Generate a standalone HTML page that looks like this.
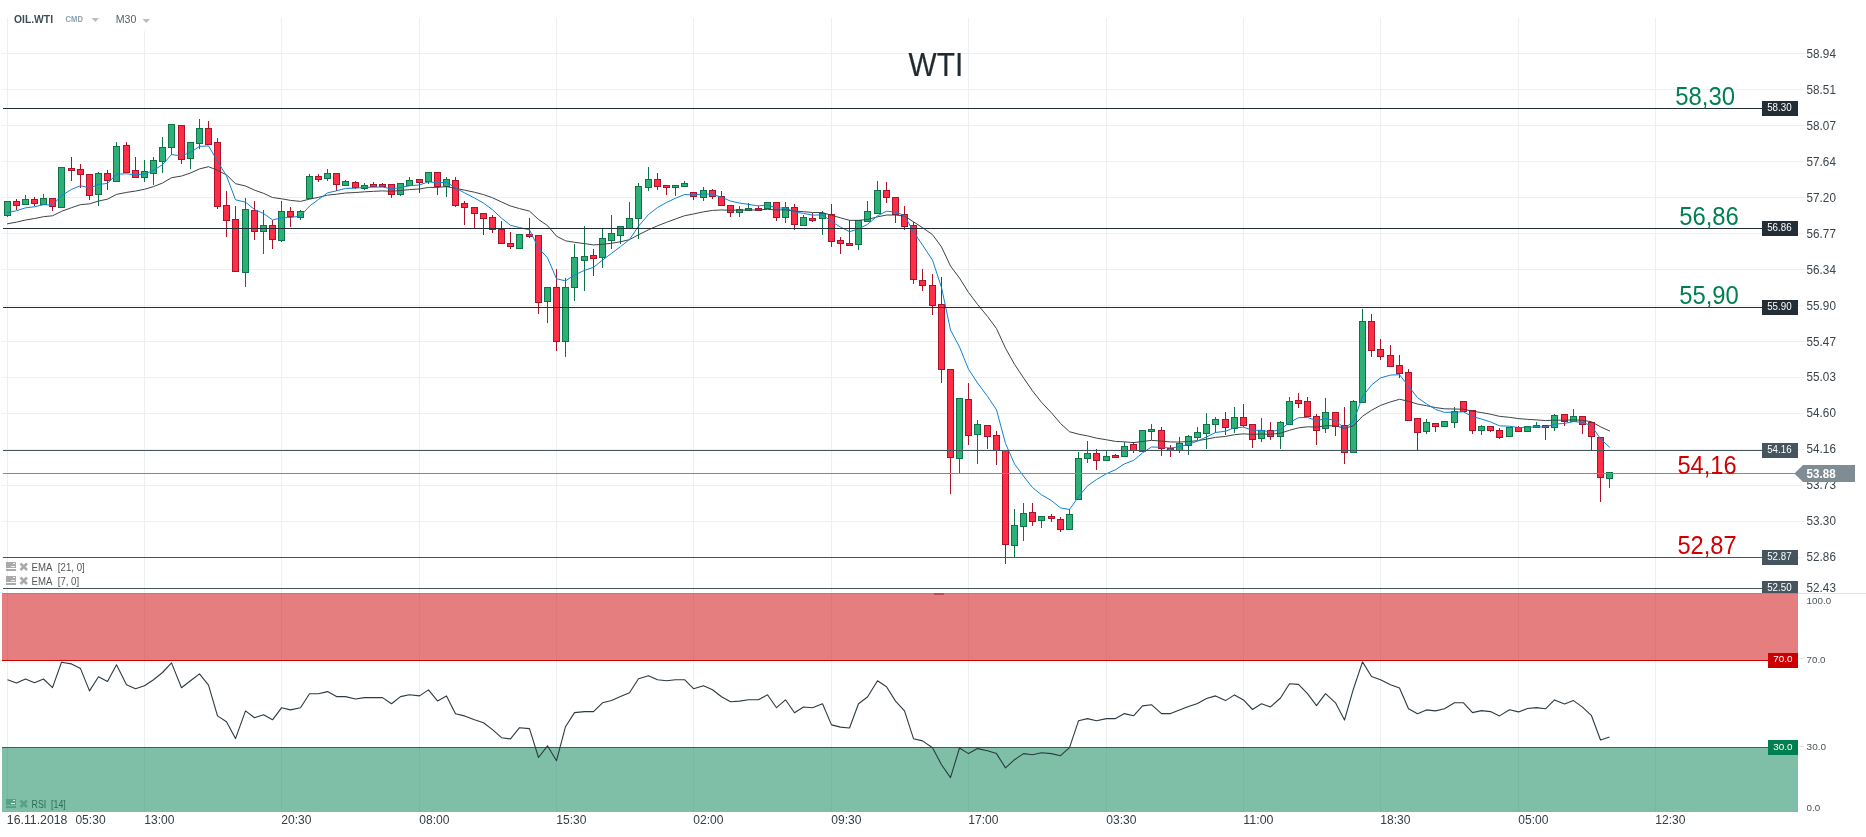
<!DOCTYPE html>
<html><head><meta charset="utf-8"><title>WTI</title>
<style>html,body{margin:0;padding:0;background:#fff;width:1866px;height:837px;overflow:hidden}</style>
</head><body>
<svg width="1866" height="837" viewBox="0 0 1866 837" style="display:block;will-change:transform;font-family:'Liberation Sans', sans-serif"><rect x="0" y="0" width="1866" height="837" fill="#ffffff"/><g shape-rendering="crispEdges"><rect x="7" y="18" width="1" height="794" fill="#edf0f3"/><rect x="144" y="18" width="1" height="794" fill="#edf0f3"/><rect x="281" y="18" width="1" height="794" fill="#edf0f3"/><rect x="419" y="18" width="1" height="794" fill="#edf0f3"/><rect x="556" y="18" width="1" height="794" fill="#edf0f3"/><rect x="693" y="18" width="1" height="794" fill="#edf0f3"/><rect x="831" y="18" width="1" height="794" fill="#edf0f3"/><rect x="968" y="18" width="1" height="794" fill="#edf0f3"/><rect x="1106" y="18" width="1" height="794" fill="#edf0f3"/><rect x="1243" y="18" width="1" height="794" fill="#edf0f3"/><rect x="1380" y="18" width="1" height="794" fill="#edf0f3"/><rect x="1518" y="18" width="1" height="794" fill="#edf0f3"/><rect x="1655" y="18" width="1" height="794" fill="#edf0f3"/><rect x="2" y="53" width="1802" height="1" fill="#edf0f3"/><rect x="2" y="89" width="1802" height="1" fill="#edf0f3"/><rect x="2" y="125" width="1802" height="1" fill="#edf0f3"/><rect x="2" y="161" width="1802" height="1" fill="#edf0f3"/><rect x="2" y="197" width="1802" height="1" fill="#edf0f3"/><rect x="2" y="233" width="1802" height="1" fill="#edf0f3"/><rect x="2" y="269" width="1802" height="1" fill="#edf0f3"/><rect x="2" y="305" width="1802" height="1" fill="#edf0f3"/><rect x="2" y="341" width="1802" height="1" fill="#edf0f3"/><rect x="2" y="377" width="1802" height="1" fill="#edf0f3"/><rect x="2" y="413" width="1802" height="1" fill="#edf0f3"/><rect x="2" y="449" width="1802" height="1" fill="#edf0f3"/><rect x="2" y="485" width="1802" height="1" fill="#edf0f3"/><rect x="2" y="521" width="1802" height="1" fill="#edf0f3"/><rect x="2" y="557" width="1802" height="1" fill="#edf0f3"/></g><g shape-rendering="crispEdges"><rect x="7" y="201" width="1" height="16" fill="#0f7347"/><rect x="4" y="201" width="7" height="15" fill="#0f7347"/><rect x="5" y="202" width="5" height="13" fill="#2bb077"/><rect x="16" y="199" width="1" height="11" fill="#a8142a"/><rect x="13" y="201" width="7" height="5" fill="#a8142a"/><rect x="14" y="202" width="5" height="3" fill="#ff2e46"/><rect x="25" y="195" width="1" height="10" fill="#0f7347"/><rect x="22" y="199" width="7" height="6" fill="#0f7347"/><rect x="23" y="200" width="5" height="4" fill="#2bb077"/><rect x="34" y="197" width="1" height="9" fill="#a8142a"/><rect x="31" y="199" width="7" height="5" fill="#a8142a"/><rect x="32" y="200" width="5" height="3" fill="#ff2e46"/><rect x="43" y="194" width="1" height="11" fill="#0f7347"/><rect x="40" y="198" width="7" height="7" fill="#0f7347"/><rect x="41" y="199" width="5" height="5" fill="#2bb077"/><rect x="52" y="198" width="1" height="13" fill="#a8142a"/><rect x="49" y="198" width="7" height="9" fill="#a8142a"/><rect x="50" y="199" width="5" height="7" fill="#ff2e46"/><rect x="58" y="167" width="7" height="41" fill="#0f7347"/><rect x="59" y="168" width="5" height="39" fill="#2bb077"/><rect x="71" y="157" width="1" height="24" fill="#a8142a"/><rect x="68" y="168" width="7" height="3" fill="#a8142a"/><rect x="69" y="169" width="5" height="1" fill="#ff2e46"/><rect x="80" y="164" width="1" height="24" fill="#a8142a"/><rect x="77" y="169" width="7" height="6" fill="#a8142a"/><rect x="78" y="170" width="5" height="4" fill="#ff2e46"/><rect x="89" y="174" width="1" height="26" fill="#a8142a"/><rect x="86" y="174" width="7" height="22" fill="#a8142a"/><rect x="87" y="175" width="5" height="20" fill="#ff2e46"/><rect x="98" y="172" width="1" height="34" fill="#0f7347"/><rect x="95" y="173" width="7" height="22" fill="#0f7347"/><rect x="96" y="174" width="5" height="20" fill="#2bb077"/><rect x="107" y="170" width="1" height="20" fill="#a8142a"/><rect x="104" y="173" width="7" height="8" fill="#a8142a"/><rect x="105" y="174" width="5" height="6" fill="#ff2e46"/><rect x="116" y="142" width="1" height="40" fill="#0f7347"/><rect x="113" y="146" width="7" height="36" fill="#0f7347"/><rect x="114" y="147" width="5" height="34" fill="#2bb077"/><rect x="126" y="142" width="1" height="31" fill="#a8142a"/><rect x="123" y="145" width="7" height="28" fill="#a8142a"/><rect x="124" y="146" width="5" height="26" fill="#ff2e46"/><rect x="135" y="157" width="1" height="21" fill="#a8142a"/><rect x="132" y="170" width="7" height="8" fill="#a8142a"/><rect x="133" y="171" width="5" height="6" fill="#ff2e46"/><rect x="144" y="160" width="1" height="22" fill="#0f7347"/><rect x="141" y="171" width="7" height="7" fill="#0f7347"/><rect x="142" y="172" width="5" height="5" fill="#2bb077"/><rect x="153" y="157" width="1" height="28" fill="#0f7347"/><rect x="150" y="160" width="7" height="14" fill="#0f7347"/><rect x="151" y="161" width="5" height="12" fill="#2bb077"/><rect x="162" y="137" width="1" height="36" fill="#0f7347"/><rect x="159" y="147" width="7" height="15" fill="#0f7347"/><rect x="160" y="148" width="5" height="13" fill="#2bb077"/><rect x="171" y="124" width="1" height="31" fill="#0f7347"/><rect x="168" y="124" width="7" height="24" fill="#0f7347"/><rect x="169" y="125" width="5" height="22" fill="#2bb077"/><rect x="181" y="125" width="1" height="39" fill="#a8142a"/><rect x="178" y="125" width="7" height="35" fill="#a8142a"/><rect x="179" y="126" width="5" height="33" fill="#ff2e46"/><rect x="190" y="142" width="1" height="27" fill="#0f7347"/><rect x="187" y="142" width="7" height="17" fill="#0f7347"/><rect x="188" y="143" width="5" height="15" fill="#2bb077"/><rect x="199" y="119" width="1" height="30" fill="#0f7347"/><rect x="196" y="128" width="7" height="16" fill="#0f7347"/><rect x="197" y="129" width="5" height="14" fill="#2bb077"/><rect x="208" y="121" width="1" height="24" fill="#a8142a"/><rect x="205" y="128" width="7" height="17" fill="#a8142a"/><rect x="206" y="129" width="5" height="15" fill="#ff2e46"/><rect x="217" y="138" width="1" height="71" fill="#a8142a"/><rect x="214" y="142" width="7" height="65" fill="#a8142a"/><rect x="215" y="143" width="5" height="63" fill="#ff2e46"/><rect x="226" y="191" width="1" height="46" fill="#a8142a"/><rect x="223" y="205" width="7" height="16" fill="#a8142a"/><rect x="224" y="206" width="5" height="14" fill="#ff2e46"/><rect x="235" y="206" width="1" height="66" fill="#a8142a"/><rect x="232" y="219" width="7" height="53" fill="#a8142a"/><rect x="233" y="220" width="5" height="51" fill="#ff2e46"/><rect x="245" y="198" width="1" height="89" fill="#0f7347"/><rect x="242" y="209" width="7" height="64" fill="#0f7347"/><rect x="243" y="210" width="5" height="62" fill="#2bb077"/><rect x="254" y="201" width="1" height="39" fill="#a8142a"/><rect x="251" y="210" width="7" height="22" fill="#a8142a"/><rect x="252" y="211" width="5" height="20" fill="#ff2e46"/><rect x="263" y="210" width="1" height="44" fill="#0f7347"/><rect x="260" y="225" width="7" height="7" fill="#0f7347"/><rect x="261" y="226" width="5" height="5" fill="#2bb077"/><rect x="272" y="220" width="1" height="29" fill="#a8142a"/><rect x="269" y="225" width="7" height="15" fill="#a8142a"/><rect x="270" y="226" width="5" height="13" fill="#ff2e46"/><rect x="281" y="201" width="1" height="41" fill="#0f7347"/><rect x="278" y="211" width="7" height="30" fill="#0f7347"/><rect x="279" y="212" width="5" height="28" fill="#2bb077"/><rect x="290" y="207" width="1" height="20" fill="#a8142a"/><rect x="287" y="211" width="7" height="6" fill="#a8142a"/><rect x="288" y="212" width="5" height="4" fill="#ff2e46"/><rect x="300" y="210" width="1" height="10" fill="#0f7347"/><rect x="297" y="211" width="7" height="7" fill="#0f7347"/><rect x="298" y="212" width="5" height="5" fill="#2bb077"/><rect x="309" y="174" width="1" height="25" fill="#0f7347"/><rect x="306" y="176" width="7" height="23" fill="#0f7347"/><rect x="307" y="177" width="5" height="21" fill="#2bb077"/><rect x="318" y="174" width="1" height="8" fill="#a8142a"/><rect x="315" y="176" width="7" height="4" fill="#a8142a"/><rect x="316" y="177" width="5" height="2" fill="#ff2e46"/><rect x="327" y="169" width="1" height="12" fill="#0f7347"/><rect x="324" y="173" width="7" height="6" fill="#0f7347"/><rect x="325" y="174" width="5" height="4" fill="#2bb077"/><rect x="336" y="173" width="1" height="18" fill="#a8142a"/><rect x="333" y="173" width="7" height="12" fill="#a8142a"/><rect x="334" y="174" width="5" height="10" fill="#ff2e46"/><rect x="345" y="180" width="1" height="6" fill="#0f7347"/><rect x="342" y="181" width="7" height="5" fill="#0f7347"/><rect x="343" y="182" width="5" height="3" fill="#2bb077"/><rect x="355" y="181" width="1" height="8" fill="#a8142a"/><rect x="352" y="182" width="7" height="6" fill="#a8142a"/><rect x="353" y="183" width="5" height="4" fill="#ff2e46"/><rect x="364" y="183" width="1" height="7" fill="#0f7347"/><rect x="361" y="185" width="7" height="4" fill="#0f7347"/><rect x="362" y="186" width="5" height="2" fill="#2bb077"/><rect x="373" y="182" width="1" height="5" fill="#a8142a"/><rect x="370" y="184" width="7" height="3" fill="#a8142a"/><rect x="371" y="185" width="5" height="1" fill="#ff2e46"/><rect x="382" y="183" width="1" height="4" fill="#a8142a"/><rect x="379" y="184" width="7" height="3" fill="#a8142a"/><rect x="380" y="185" width="5" height="1" fill="#ff2e46"/><rect x="391" y="184" width="1" height="14" fill="#a8142a"/><rect x="388" y="184" width="7" height="11" fill="#a8142a"/><rect x="389" y="185" width="5" height="9" fill="#ff2e46"/><rect x="400" y="183" width="1" height="13" fill="#0f7347"/><rect x="397" y="183" width="7" height="12" fill="#0f7347"/><rect x="398" y="184" width="5" height="10" fill="#2bb077"/><rect x="409" y="177" width="1" height="9" fill="#0f7347"/><rect x="406" y="180" width="7" height="6" fill="#0f7347"/><rect x="407" y="181" width="5" height="4" fill="#2bb077"/><rect x="419" y="179" width="1" height="14" fill="#a8142a"/><rect x="416" y="179" width="7" height="4" fill="#a8142a"/><rect x="417" y="180" width="5" height="2" fill="#ff2e46"/><rect x="428" y="172" width="1" height="12" fill="#0f7347"/><rect x="425" y="172" width="7" height="10" fill="#0f7347"/><rect x="426" y="173" width="5" height="8" fill="#2bb077"/><rect x="437" y="172" width="1" height="23" fill="#a8142a"/><rect x="434" y="172" width="7" height="15" fill="#a8142a"/><rect x="435" y="173" width="5" height="13" fill="#ff2e46"/><rect x="446" y="177" width="1" height="20" fill="#0f7347"/><rect x="443" y="179" width="7" height="8" fill="#0f7347"/><rect x="444" y="180" width="5" height="6" fill="#2bb077"/><rect x="455" y="177" width="1" height="30" fill="#a8142a"/><rect x="452" y="180" width="7" height="26" fill="#a8142a"/><rect x="453" y="181" width="5" height="24" fill="#ff2e46"/><rect x="464" y="201" width="1" height="24" fill="#a8142a"/><rect x="461" y="203" width="7" height="5" fill="#a8142a"/><rect x="462" y="204" width="5" height="3" fill="#ff2e46"/><rect x="474" y="207" width="1" height="22" fill="#a8142a"/><rect x="471" y="207" width="7" height="7" fill="#a8142a"/><rect x="472" y="208" width="5" height="5" fill="#ff2e46"/><rect x="483" y="213" width="1" height="22" fill="#a8142a"/><rect x="480" y="213" width="7" height="6" fill="#a8142a"/><rect x="481" y="214" width="5" height="4" fill="#ff2e46"/><rect x="492" y="215" width="1" height="18" fill="#a8142a"/><rect x="489" y="217" width="7" height="13" fill="#a8142a"/><rect x="490" y="218" width="5" height="11" fill="#ff2e46"/><rect x="501" y="221" width="1" height="23" fill="#a8142a"/><rect x="498" y="229" width="7" height="15" fill="#a8142a"/><rect x="499" y="230" width="5" height="13" fill="#ff2e46"/><rect x="510" y="232" width="1" height="17" fill="#a8142a"/><rect x="507" y="243" width="7" height="4" fill="#a8142a"/><rect x="508" y="244" width="5" height="2" fill="#ff2e46"/><rect x="516" y="234" width="7" height="15" fill="#0f7347"/><rect x="517" y="235" width="5" height="13" fill="#2bb077"/><rect x="529" y="218" width="1" height="20" fill="#a8142a"/><rect x="526" y="234" width="7" height="3" fill="#a8142a"/><rect x="527" y="235" width="5" height="1" fill="#ff2e46"/><rect x="538" y="235" width="1" height="79" fill="#a8142a"/><rect x="535" y="235" width="7" height="68" fill="#a8142a"/><rect x="536" y="236" width="5" height="66" fill="#ff2e46"/><rect x="547" y="287" width="1" height="36" fill="#0f7347"/><rect x="544" y="287" width="7" height="15" fill="#0f7347"/><rect x="545" y="288" width="5" height="13" fill="#2bb077"/><rect x="556" y="269" width="1" height="82" fill="#a8142a"/><rect x="553" y="287" width="7" height="55" fill="#a8142a"/><rect x="554" y="288" width="5" height="53" fill="#ff2e46"/><rect x="565" y="278" width="1" height="79" fill="#0f7347"/><rect x="562" y="287" width="7" height="55" fill="#0f7347"/><rect x="563" y="288" width="5" height="53" fill="#2bb077"/><rect x="574" y="244" width="1" height="57" fill="#0f7347"/><rect x="571" y="257" width="7" height="31" fill="#0f7347"/><rect x="572" y="258" width="5" height="29" fill="#2bb077"/><rect x="584" y="226" width="1" height="65" fill="#0f7347"/><rect x="581" y="256" width="7" height="5" fill="#0f7347"/><rect x="582" y="257" width="5" height="3" fill="#2bb077"/><rect x="593" y="249" width="1" height="27" fill="#a8142a"/><rect x="590" y="255" width="7" height="4" fill="#a8142a"/><rect x="591" y="256" width="5" height="2" fill="#ff2e46"/><rect x="602" y="228" width="1" height="40" fill="#0f7347"/><rect x="599" y="238" width="7" height="20" fill="#0f7347"/><rect x="600" y="239" width="5" height="18" fill="#2bb077"/><rect x="611" y="215" width="1" height="34" fill="#0f7347"/><rect x="608" y="233" width="7" height="8" fill="#0f7347"/><rect x="609" y="234" width="5" height="6" fill="#2bb077"/><rect x="620" y="226" width="1" height="18" fill="#0f7347"/><rect x="617" y="226" width="7" height="10" fill="#0f7347"/><rect x="618" y="227" width="5" height="8" fill="#2bb077"/><rect x="629" y="202" width="1" height="27" fill="#0f7347"/><rect x="626" y="218" width="7" height="11" fill="#0f7347"/><rect x="627" y="219" width="5" height="9" fill="#2bb077"/><rect x="638" y="183" width="1" height="56" fill="#0f7347"/><rect x="635" y="186" width="7" height="33" fill="#0f7347"/><rect x="636" y="187" width="5" height="31" fill="#2bb077"/><rect x="648" y="167" width="1" height="24" fill="#0f7347"/><rect x="645" y="179" width="7" height="9" fill="#0f7347"/><rect x="646" y="180" width="5" height="7" fill="#2bb077"/><rect x="657" y="173" width="1" height="17" fill="#a8142a"/><rect x="654" y="179" width="7" height="8" fill="#a8142a"/><rect x="655" y="180" width="5" height="6" fill="#ff2e46"/><rect x="666" y="185" width="1" height="10" fill="#a8142a"/><rect x="663" y="185" width="7" height="3" fill="#a8142a"/><rect x="664" y="186" width="5" height="1" fill="#ff2e46"/><rect x="675" y="185" width="1" height="11" fill="#0f7347"/><rect x="672" y="185" width="7" height="3" fill="#0f7347"/><rect x="673" y="186" width="5" height="1" fill="#2bb077"/><rect x="684" y="181" width="1" height="6" fill="#0f7347"/><rect x="681" y="183" width="7" height="4" fill="#0f7347"/><rect x="682" y="184" width="5" height="2" fill="#2bb077"/><rect x="693" y="192" width="1" height="8" fill="#a8142a"/><rect x="690" y="192" width="7" height="5" fill="#a8142a"/><rect x="691" y="193" width="5" height="3" fill="#ff2e46"/><rect x="703" y="187" width="1" height="14" fill="#0f7347"/><rect x="700" y="190" width="7" height="8" fill="#0f7347"/><rect x="701" y="191" width="5" height="6" fill="#2bb077"/><rect x="712" y="189" width="1" height="10" fill="#a8142a"/><rect x="709" y="190" width="7" height="7" fill="#a8142a"/><rect x="710" y="191" width="5" height="5" fill="#ff2e46"/><rect x="721" y="191" width="1" height="15" fill="#a8142a"/><rect x="718" y="196" width="7" height="10" fill="#a8142a"/><rect x="719" y="197" width="5" height="8" fill="#ff2e46"/><rect x="730" y="205" width="1" height="12" fill="#a8142a"/><rect x="727" y="205" width="7" height="8" fill="#a8142a"/><rect x="728" y="206" width="5" height="6" fill="#ff2e46"/><rect x="739" y="206" width="1" height="11" fill="#0f7347"/><rect x="736" y="209" width="7" height="4" fill="#0f7347"/><rect x="737" y="210" width="5" height="2" fill="#2bb077"/><rect x="748" y="203" width="1" height="8" fill="#0f7347"/><rect x="745" y="208" width="7" height="3" fill="#0f7347"/><rect x="746" y="209" width="5" height="1" fill="#2bb077"/><rect x="758" y="206" width="1" height="5" fill="#a8142a"/><rect x="755" y="208" width="7" height="3" fill="#a8142a"/><rect x="756" y="209" width="5" height="1" fill="#ff2e46"/><rect x="764" y="202" width="7" height="7" fill="#0f7347"/><rect x="765" y="203" width="5" height="5" fill="#2bb077"/><rect x="776" y="202" width="1" height="19" fill="#a8142a"/><rect x="773" y="202" width="7" height="16" fill="#a8142a"/><rect x="774" y="203" width="5" height="14" fill="#ff2e46"/><rect x="785" y="202" width="1" height="21" fill="#0f7347"/><rect x="782" y="207" width="7" height="11" fill="#0f7347"/><rect x="783" y="208" width="5" height="9" fill="#2bb077"/><rect x="794" y="204" width="1" height="26" fill="#a8142a"/><rect x="791" y="207" width="7" height="18" fill="#a8142a"/><rect x="792" y="208" width="5" height="16" fill="#ff2e46"/><rect x="803" y="215" width="1" height="11" fill="#0f7347"/><rect x="800" y="217" width="7" height="9" fill="#0f7347"/><rect x="801" y="218" width="5" height="7" fill="#2bb077"/><rect x="812" y="213" width="1" height="9" fill="#a8142a"/><rect x="809" y="218" width="7" height="3" fill="#a8142a"/><rect x="810" y="219" width="5" height="1" fill="#ff2e46"/><rect x="822" y="211" width="1" height="24" fill="#0f7347"/><rect x="819" y="213" width="7" height="6" fill="#0f7347"/><rect x="820" y="214" width="5" height="4" fill="#2bb077"/><rect x="831" y="204" width="1" height="43" fill="#a8142a"/><rect x="828" y="214" width="7" height="28" fill="#a8142a"/><rect x="829" y="215" width="5" height="26" fill="#ff2e46"/><rect x="840" y="237" width="1" height="17" fill="#a8142a"/><rect x="837" y="240" width="7" height="4" fill="#a8142a"/><rect x="838" y="241" width="5" height="2" fill="#ff2e46"/><rect x="849" y="220" width="1" height="26" fill="#a8142a"/><rect x="846" y="243" width="7" height="3" fill="#a8142a"/><rect x="847" y="244" width="5" height="1" fill="#ff2e46"/><rect x="858" y="220" width="1" height="30" fill="#0f7347"/><rect x="855" y="220" width="7" height="25" fill="#0f7347"/><rect x="856" y="221" width="5" height="23" fill="#2bb077"/><rect x="867" y="201" width="1" height="21" fill="#0f7347"/><rect x="864" y="211" width="7" height="11" fill="#0f7347"/><rect x="865" y="212" width="5" height="9" fill="#2bb077"/><rect x="877" y="181" width="1" height="33" fill="#0f7347"/><rect x="874" y="190" width="7" height="24" fill="#0f7347"/><rect x="875" y="191" width="5" height="22" fill="#2bb077"/><rect x="886" y="182" width="1" height="21" fill="#a8142a"/><rect x="883" y="190" width="7" height="8" fill="#a8142a"/><rect x="884" y="191" width="5" height="6" fill="#ff2e46"/><rect x="895" y="197" width="1" height="26" fill="#a8142a"/><rect x="892" y="197" width="7" height="18" fill="#a8142a"/><rect x="893" y="198" width="5" height="16" fill="#ff2e46"/><rect x="904" y="206" width="1" height="24" fill="#a8142a"/><rect x="901" y="214" width="7" height="13" fill="#a8142a"/><rect x="902" y="215" width="5" height="11" fill="#ff2e46"/><rect x="913" y="222" width="1" height="62" fill="#a8142a"/><rect x="910" y="225" width="7" height="55" fill="#a8142a"/><rect x="911" y="226" width="5" height="53" fill="#ff2e46"/><rect x="922" y="269" width="1" height="22" fill="#a8142a"/><rect x="919" y="280" width="7" height="6" fill="#a8142a"/><rect x="920" y="281" width="5" height="4" fill="#ff2e46"/><rect x="932" y="274" width="1" height="41" fill="#a8142a"/><rect x="929" y="285" width="7" height="21" fill="#a8142a"/><rect x="930" y="286" width="5" height="19" fill="#ff2e46"/><rect x="941" y="277" width="1" height="106" fill="#a8142a"/><rect x="938" y="304" width="7" height="66" fill="#a8142a"/><rect x="939" y="305" width="5" height="64" fill="#ff2e46"/><rect x="950" y="369" width="1" height="125" fill="#a8142a"/><rect x="947" y="369" width="7" height="89" fill="#a8142a"/><rect x="948" y="370" width="5" height="87" fill="#ff2e46"/><rect x="959" y="398" width="1" height="76" fill="#0f7347"/><rect x="956" y="398" width="7" height="61" fill="#0f7347"/><rect x="957" y="399" width="5" height="59" fill="#2bb077"/><rect x="968" y="383" width="1" height="62" fill="#a8142a"/><rect x="965" y="399" width="7" height="37" fill="#a8142a"/><rect x="966" y="400" width="5" height="35" fill="#ff2e46"/><rect x="977" y="420" width="1" height="44" fill="#0f7347"/><rect x="974" y="424" width="7" height="11" fill="#0f7347"/><rect x="975" y="425" width="5" height="9" fill="#2bb077"/><rect x="987" y="425" width="1" height="24" fill="#a8142a"/><rect x="984" y="425" width="7" height="12" fill="#a8142a"/><rect x="985" y="426" width="5" height="10" fill="#ff2e46"/><rect x="996" y="431" width="1" height="34" fill="#a8142a"/><rect x="993" y="435" width="7" height="16" fill="#a8142a"/><rect x="994" y="436" width="5" height="14" fill="#ff2e46"/><rect x="1005" y="450" width="1" height="114" fill="#a8142a"/><rect x="1002" y="450" width="7" height="95" fill="#a8142a"/><rect x="1003" y="451" width="5" height="93" fill="#ff2e46"/><rect x="1014" y="509" width="1" height="49" fill="#0f7347"/><rect x="1011" y="525" width="7" height="21" fill="#0f7347"/><rect x="1012" y="526" width="5" height="19" fill="#2bb077"/><rect x="1023" y="503" width="1" height="38" fill="#0f7347"/><rect x="1020" y="513" width="7" height="14" fill="#0f7347"/><rect x="1021" y="514" width="5" height="12" fill="#2bb077"/><rect x="1032" y="503" width="1" height="23" fill="#a8142a"/><rect x="1029" y="512" width="7" height="10" fill="#a8142a"/><rect x="1030" y="513" width="5" height="8" fill="#ff2e46"/><rect x="1041" y="516" width="1" height="12" fill="#0f7347"/><rect x="1038" y="516" width="7" height="5" fill="#0f7347"/><rect x="1039" y="517" width="5" height="3" fill="#2bb077"/><rect x="1051" y="514" width="1" height="8" fill="#a8142a"/><rect x="1048" y="516" width="7" height="3" fill="#a8142a"/><rect x="1049" y="517" width="5" height="1" fill="#ff2e46"/><rect x="1060" y="517" width="1" height="15" fill="#a8142a"/><rect x="1057" y="519" width="7" height="11" fill="#a8142a"/><rect x="1058" y="520" width="5" height="9" fill="#ff2e46"/><rect x="1069" y="509" width="1" height="21" fill="#0f7347"/><rect x="1066" y="514" width="7" height="16" fill="#0f7347"/><rect x="1067" y="515" width="5" height="14" fill="#2bb077"/><rect x="1078" y="452" width="1" height="48" fill="#0f7347"/><rect x="1075" y="458" width="7" height="42" fill="#0f7347"/><rect x="1076" y="459" width="5" height="40" fill="#2bb077"/><rect x="1087" y="441" width="1" height="22" fill="#0f7347"/><rect x="1084" y="453" width="7" height="6" fill="#0f7347"/><rect x="1085" y="454" width="5" height="4" fill="#2bb077"/><rect x="1096" y="449" width="1" height="21" fill="#a8142a"/><rect x="1093" y="453" width="7" height="8" fill="#a8142a"/><rect x="1094" y="454" width="5" height="6" fill="#ff2e46"/><rect x="1106" y="450" width="1" height="11" fill="#0f7347"/><rect x="1103" y="456" width="7" height="5" fill="#0f7347"/><rect x="1104" y="457" width="5" height="3" fill="#2bb077"/><rect x="1115" y="454" width="1" height="4" fill="#a8142a"/><rect x="1112" y="455" width="7" height="3" fill="#a8142a"/><rect x="1113" y="456" width="5" height="1" fill="#ff2e46"/><rect x="1124" y="442" width="1" height="15" fill="#0f7347"/><rect x="1121" y="446" width="7" height="11" fill="#0f7347"/><rect x="1122" y="447" width="5" height="9" fill="#2bb077"/><rect x="1133" y="442" width="1" height="11" fill="#a8142a"/><rect x="1130" y="444" width="7" height="7" fill="#a8142a"/><rect x="1131" y="445" width="5" height="5" fill="#ff2e46"/><rect x="1139" y="430" width="7" height="22" fill="#0f7347"/><rect x="1140" y="431" width="5" height="20" fill="#2bb077"/><rect x="1151" y="424" width="1" height="16" fill="#0f7347"/><rect x="1148" y="429" width="7" height="3" fill="#0f7347"/><rect x="1149" y="430" width="5" height="1" fill="#2bb077"/><rect x="1161" y="427" width="1" height="29" fill="#a8142a"/><rect x="1158" y="430" width="7" height="19" fill="#a8142a"/><rect x="1159" y="431" width="5" height="17" fill="#ff2e46"/><rect x="1170" y="445" width="1" height="12" fill="#a8142a"/><rect x="1167" y="448" width="7" height="3" fill="#a8142a"/><rect x="1168" y="449" width="5" height="1" fill="#ff2e46"/><rect x="1179" y="437" width="1" height="16" fill="#0f7347"/><rect x="1176" y="443" width="7" height="8" fill="#0f7347"/><rect x="1177" y="444" width="5" height="6" fill="#2bb077"/><rect x="1188" y="435" width="1" height="20" fill="#0f7347"/><rect x="1185" y="436" width="7" height="10" fill="#0f7347"/><rect x="1186" y="437" width="5" height="8" fill="#2bb077"/><rect x="1197" y="427" width="1" height="13" fill="#0f7347"/><rect x="1194" y="432" width="7" height="6" fill="#0f7347"/><rect x="1195" y="433" width="5" height="4" fill="#2bb077"/><rect x="1206" y="413" width="1" height="36" fill="#0f7347"/><rect x="1203" y="424" width="7" height="10" fill="#0f7347"/><rect x="1204" y="425" width="5" height="8" fill="#2bb077"/><rect x="1215" y="417" width="1" height="16" fill="#0f7347"/><rect x="1212" y="419" width="7" height="6" fill="#0f7347"/><rect x="1213" y="420" width="5" height="4" fill="#2bb077"/><rect x="1225" y="412" width="1" height="23" fill="#a8142a"/><rect x="1222" y="419" width="7" height="9" fill="#a8142a"/><rect x="1223" y="420" width="5" height="7" fill="#ff2e46"/><rect x="1234" y="407" width="1" height="26" fill="#0f7347"/><rect x="1231" y="417" width="7" height="12" fill="#0f7347"/><rect x="1232" y="418" width="5" height="10" fill="#2bb077"/><rect x="1243" y="404" width="1" height="23" fill="#a8142a"/><rect x="1240" y="417" width="7" height="9" fill="#a8142a"/><rect x="1241" y="418" width="5" height="7" fill="#ff2e46"/><rect x="1252" y="424" width="1" height="24" fill="#a8142a"/><rect x="1249" y="424" width="7" height="16" fill="#a8142a"/><rect x="1250" y="425" width="5" height="14" fill="#ff2e46"/><rect x="1261" y="418" width="1" height="24" fill="#0f7347"/><rect x="1258" y="430" width="7" height="9" fill="#0f7347"/><rect x="1259" y="431" width="5" height="7" fill="#2bb077"/><rect x="1270" y="422" width="1" height="18" fill="#a8142a"/><rect x="1267" y="430" width="7" height="7" fill="#a8142a"/><rect x="1268" y="431" width="5" height="5" fill="#ff2e46"/><rect x="1280" y="421" width="1" height="28" fill="#0f7347"/><rect x="1277" y="422" width="7" height="15" fill="#0f7347"/><rect x="1278" y="423" width="5" height="13" fill="#2bb077"/><rect x="1289" y="397" width="1" height="28" fill="#0f7347"/><rect x="1286" y="401" width="7" height="24" fill="#0f7347"/><rect x="1287" y="402" width="5" height="22" fill="#2bb077"/><rect x="1298" y="393" width="1" height="15" fill="#a8142a"/><rect x="1295" y="400" width="7" height="4" fill="#a8142a"/><rect x="1296" y="401" width="5" height="2" fill="#ff2e46"/><rect x="1307" y="397" width="1" height="20" fill="#a8142a"/><rect x="1304" y="401" width="7" height="16" fill="#a8142a"/><rect x="1305" y="402" width="5" height="14" fill="#ff2e46"/><rect x="1316" y="414" width="1" height="31" fill="#a8142a"/><rect x="1313" y="416" width="7" height="15" fill="#a8142a"/><rect x="1314" y="417" width="5" height="13" fill="#ff2e46"/><rect x="1325" y="398" width="1" height="35" fill="#0f7347"/><rect x="1322" y="412" width="7" height="17" fill="#0f7347"/><rect x="1323" y="413" width="5" height="15" fill="#2bb077"/><rect x="1335" y="412" width="1" height="24" fill="#a8142a"/><rect x="1332" y="412" width="7" height="15" fill="#a8142a"/><rect x="1333" y="413" width="5" height="13" fill="#ff2e46"/><rect x="1344" y="407" width="1" height="57" fill="#a8142a"/><rect x="1341" y="425" width="7" height="28" fill="#a8142a"/><rect x="1342" y="426" width="5" height="26" fill="#ff2e46"/><rect x="1353" y="400" width="1" height="53" fill="#0f7347"/><rect x="1350" y="401" width="7" height="52" fill="#0f7347"/><rect x="1351" y="402" width="5" height="50" fill="#2bb077"/><rect x="1362" y="309" width="1" height="94" fill="#0f7347"/><rect x="1359" y="321" width="7" height="82" fill="#0f7347"/><rect x="1360" y="322" width="5" height="80" fill="#2bb077"/><rect x="1371" y="314" width="1" height="43" fill="#a8142a"/><rect x="1368" y="321" width="7" height="30" fill="#a8142a"/><rect x="1369" y="322" width="5" height="28" fill="#ff2e46"/><rect x="1380" y="339" width="1" height="21" fill="#a8142a"/><rect x="1377" y="349" width="7" height="8" fill="#a8142a"/><rect x="1378" y="350" width="5" height="6" fill="#ff2e46"/><rect x="1390" y="345" width="1" height="22" fill="#a8142a"/><rect x="1387" y="355" width="7" height="12" fill="#a8142a"/><rect x="1388" y="356" width="5" height="10" fill="#ff2e46"/><rect x="1399" y="355" width="1" height="23" fill="#a8142a"/><rect x="1396" y="365" width="7" height="9" fill="#a8142a"/><rect x="1397" y="366" width="5" height="7" fill="#ff2e46"/><rect x="1408" y="369" width="1" height="52" fill="#a8142a"/><rect x="1405" y="372" width="7" height="49" fill="#a8142a"/><rect x="1406" y="373" width="5" height="47" fill="#ff2e46"/><rect x="1417" y="418" width="1" height="33" fill="#a8142a"/><rect x="1414" y="418" width="7" height="15" fill="#a8142a"/><rect x="1415" y="419" width="5" height="13" fill="#ff2e46"/><rect x="1426" y="419" width="1" height="15" fill="#0f7347"/><rect x="1423" y="422" width="7" height="10" fill="#0f7347"/><rect x="1424" y="423" width="5" height="8" fill="#2bb077"/><rect x="1435" y="423" width="1" height="9" fill="#a8142a"/><rect x="1432" y="423" width="7" height="4" fill="#a8142a"/><rect x="1433" y="424" width="5" height="2" fill="#ff2e46"/><rect x="1441" y="421" width="7" height="6" fill="#0f7347"/><rect x="1442" y="422" width="5" height="4" fill="#2bb077"/><rect x="1454" y="407" width="1" height="21" fill="#0f7347"/><rect x="1451" y="411" width="7" height="12" fill="#0f7347"/><rect x="1452" y="412" width="5" height="10" fill="#2bb077"/><rect x="1460" y="401" width="7" height="11" fill="#a8142a"/><rect x="1461" y="402" width="5" height="9" fill="#ff2e46"/><rect x="1472" y="410" width="1" height="24" fill="#a8142a"/><rect x="1469" y="410" width="7" height="21" fill="#a8142a"/><rect x="1470" y="411" width="5" height="19" fill="#ff2e46"/><rect x="1481" y="425" width="1" height="10" fill="#0f7347"/><rect x="1478" y="426" width="7" height="5" fill="#0f7347"/><rect x="1479" y="427" width="5" height="3" fill="#2bb077"/><rect x="1490" y="426" width="1" height="6" fill="#a8142a"/><rect x="1487" y="426" width="7" height="5" fill="#a8142a"/><rect x="1488" y="427" width="5" height="3" fill="#ff2e46"/><rect x="1499" y="428" width="1" height="11" fill="#a8142a"/><rect x="1496" y="430" width="7" height="8" fill="#a8142a"/><rect x="1497" y="431" width="5" height="6" fill="#ff2e46"/><rect x="1506" y="427" width="7" height="10" fill="#0f7347"/><rect x="1507" y="428" width="5" height="8" fill="#2bb077"/><rect x="1518" y="426" width="1" height="6" fill="#a8142a"/><rect x="1515" y="427" width="7" height="5" fill="#a8142a"/><rect x="1516" y="428" width="5" height="3" fill="#ff2e46"/><rect x="1524" y="426" width="7" height="6" fill="#0f7347"/><rect x="1525" y="427" width="5" height="4" fill="#2bb077"/><rect x="1536" y="422" width="1" height="6" fill="#0f7347"/><rect x="1533" y="425" width="7" height="3" fill="#0f7347"/><rect x="1534" y="426" width="5" height="1" fill="#2bb077"/><rect x="1545" y="425" width="1" height="15" fill="#a8142a"/><rect x="1542" y="425" width="7" height="3" fill="#a8142a"/><rect x="1543" y="426" width="5" height="1" fill="#ff2e46"/><rect x="1554" y="414" width="1" height="17" fill="#0f7347"/><rect x="1551" y="415" width="7" height="13" fill="#0f7347"/><rect x="1552" y="416" width="5" height="11" fill="#2bb077"/><rect x="1564" y="414" width="1" height="12" fill="#a8142a"/><rect x="1561" y="414" width="7" height="8" fill="#a8142a"/><rect x="1562" y="415" width="5" height="6" fill="#ff2e46"/><rect x="1573" y="409" width="1" height="13" fill="#0f7347"/><rect x="1570" y="416" width="7" height="6" fill="#0f7347"/><rect x="1571" y="417" width="5" height="4" fill="#2bb077"/><rect x="1582" y="416" width="1" height="18" fill="#a8142a"/><rect x="1579" y="416" width="7" height="9" fill="#a8142a"/><rect x="1580" y="417" width="5" height="7" fill="#ff2e46"/><rect x="1591" y="422" width="1" height="29" fill="#a8142a"/><rect x="1588" y="422" width="7" height="15" fill="#a8142a"/><rect x="1589" y="423" width="5" height="13" fill="#ff2e46"/><rect x="1600" y="437" width="1" height="65" fill="#a8142a"/><rect x="1597" y="437" width="7" height="41" fill="#a8142a"/><rect x="1598" y="438" width="5" height="39" fill="#ff2e46"/><rect x="1609" y="472" width="1" height="16" fill="#0f7347"/><rect x="1606" y="472" width="7" height="7" fill="#0f7347"/><rect x="1607" y="473" width="5" height="5" fill="#2bb077"/></g><polyline points="7.5,223.80 16.5,222.14 25.5,220.04 34.5,218.54 43.5,216.71 52.5,215.78 61.5,211.37 71.5,207.67 80.5,204.66 89.5,203.83 98.5,201.05 107.5,199.17 116.5,194.38 126.5,192.41 135.5,191.06 144.5,189.27 153.5,186.62 162.5,183.04 171.5,177.71 181.5,176.05 190.5,172.98 199.5,168.92 208.5,166.69 217.5,170.32 226.5,174.89 235.5,183.66 245.5,185.99 254.5,190.12 263.5,193.32 272.5,197.51 281.5,198.77 290.5,200.40 300.5,201.40 309.5,199.13 318.5,197.35 327.5,195.14 336.5,194.19 345.5,193.00 355.5,192.50 364.5,191.83 373.5,191.34 382.5,190.90 391.5,191.25 400.5,190.53 409.5,189.60 419.5,188.96 428.5,187.45 437.5,187.34 446.5,186.64 455.5,188.35 464.5,190.09 474.5,192.22 483.5,194.61 492.5,197.78 501.5,201.96 510.5,206.01 519.5,208.59 529.5,211.14 538.5,219.46 547.5,225.62 556.5,236.15 565.5,240.80 574.5,242.31 584.5,243.59 593.5,244.93 602.5,244.32 611.5,243.31 620.5,241.77 629.5,239.63 638.5,234.77 648.5,229.75 657.5,225.81 666.5,222.34 675.5,218.98 684.5,215.75 693.5,213.99 703.5,211.82 712.5,210.41 721.5,209.96 730.5,210.21 739.5,210.12 748.5,209.94 758.5,209.99 767.5,209.27 776.5,210.01 785.5,209.77 794.5,211.12 803.5,211.68 812.5,212.48 822.5,212.61 831.5,215.24 840.5,217.82 849.5,220.35 858.5,220.34 867.5,219.50 877.5,216.83 886.5,215.06 895.5,215.00 904.5,216.07 913.5,221.84 922.5,227.60 932.5,234.66 941.5,246.91 950.5,266.06 959.5,278.07 968.5,292.40 977.5,304.38 987.5,316.41 996.5,328.58 1005.5,348.21 1014.5,364.31 1023.5,377.83 1032.5,390.89 1041.5,402.31 1051.5,412.86 1060.5,423.46 1069.5,431.73 1078.5,434.15 1087.5,435.88 1096.5,438.13 1106.5,439.77 1115.5,441.40 1124.5,441.85 1133.5,442.60 1142.5,441.49 1151.5,440.36 1161.5,441.10 1170.5,441.91 1179.5,442.04 1188.5,441.52 1197.5,440.66 1206.5,439.16 1215.5,437.35 1225.5,436.45 1234.5,434.70 1243.5,433.85 1252.5,434.36 1261.5,434.03 1270.5,434.25 1280.5,433.18 1289.5,430.27 1298.5,427.84 1307.5,426.81 1316.5,427.13 1325.5,425.79 1335.5,425.82 1344.5,428.23 1353.5,425.77 1362.5,416.28 1371.5,410.32 1380.5,405.42 1390.5,401.88 1399.5,399.31 1408.5,401.23 1417.5,404.05 1426.5,405.71 1435.5,407.57 1444.5,408.81 1454.5,409.04 1463.5,409.23 1472.5,411.20 1481.5,412.57 1490.5,414.21 1499.5,416.33 1509.5,417.33 1518.5,418.63 1527.5,419.34 1536.5,419.90 1545.5,420.59 1554.5,420.12 1564.5,420.22 1573.5,419.85 1582.5,420.27 1591.5,421.75 1600.5,426.81 1609.5,430.96" fill="none" stroke="#3a4448" stroke-width="1.0" stroke-linejoin="round" stroke-linecap="round"/><polyline points="7.5,212.50 16.5,210.75 25.5,207.84 34.5,206.75 43.5,204.66 52.5,205.12 61.5,195.67 71.5,189.40 80.5,185.70 89.5,188.15 98.5,184.44 107.5,183.43 116.5,174.17 126.5,173.80 135.5,174.75 144.5,173.91 153.5,170.46 162.5,164.65 171.5,154.58 181.5,155.81 190.5,152.43 199.5,146.40 208.5,145.90 217.5,161.08 226.5,175.96 235.5,199.79 245.5,202.17 254.5,209.48 263.5,213.46 272.5,219.94 281.5,217.81 290.5,217.53 300.5,216.00 309.5,206.10 318.5,199.45 327.5,192.86 336.5,190.82 345.5,188.39 355.5,188.17 364.5,187.40 373.5,187.18 382.5,187.01 391.5,188.93 400.5,187.52 409.5,185.72 419.5,184.94 428.5,181.78 437.5,182.91 446.5,182.08 455.5,187.94 464.5,192.83 474.5,198.00 483.5,203.12 492.5,209.72 501.5,218.21 510.5,225.28 519.5,227.56 529.5,229.85 538.5,248.04 547.5,257.85 556.5,278.74 565.5,280.88 574.5,275.01 584.5,270.36 593.5,267.34 602.5,260.06 611.5,253.34 620.5,246.61 629.5,239.51 638.5,226.18 648.5,214.53 657.5,207.50 666.5,202.53 675.5,198.24 684.5,194.53 693.5,195.00 703.5,193.77 712.5,194.41 721.5,197.18 730.5,201.06 739.5,203.09 748.5,204.37 758.5,205.90 767.5,204.93 776.5,208.07 785.5,207.88 794.5,212.06 803.5,213.37 812.5,215.15 822.5,214.84 831.5,221.50 840.5,227.05 849.5,231.69 858.5,228.84 867.5,224.41 877.5,215.83 886.5,211.20 895.5,212.00 904.5,215.70 913.5,231.65 922.5,245.06 932.5,260.10 941.5,287.42 950.5,329.97 959.5,347.02 968.5,369.19 977.5,382.92 987.5,396.37 996.5,409.85 1005.5,443.51 1014.5,463.96 1023.5,476.24 1032.5,487.56 1041.5,494.79 1051.5,500.67 1060.5,507.88 1069.5,509.51 1078.5,496.73 1087.5,485.82 1096.5,479.54 1106.5,473.71 1115.5,469.68 1124.5,463.86 1133.5,460.42 1142.5,452.92 1151.5,446.96 1161.5,447.35 1170.5,448.01 1179.5,446.83 1188.5,444.20 1197.5,441.17 1206.5,436.93 1215.5,432.50 1225.5,431.22 1234.5,427.74 1243.5,427.13 1252.5,430.22 1261.5,430.34 1270.5,431.88 1280.5,429.51 1289.5,422.43 1298.5,417.70 1307.5,417.40 1316.5,420.65 1325.5,418.59 1335.5,420.47 1344.5,428.42 1353.5,421.62 1362.5,396.56 1371.5,385.10 1380.5,377.92 1390.5,375.07 1399.5,374.70 1408.5,386.13 1417.5,397.67 1426.5,403.83 1435.5,409.42 1444.5,412.37 1454.5,412.10 1463.5,411.87 1472.5,416.61 1481.5,419.03 1490.5,421.92 1499.5,425.84 1509.5,426.21 1518.5,427.55 1527.5,427.29 1536.5,426.84 1545.5,427.01 1554.5,424.11 1564.5,423.38 1573.5,421.58 1582.5,422.29 1591.5,425.87 1600.5,438.75 1609.5,447.16" fill="none" stroke="#0f82d2" stroke-width="1.0" stroke-linejoin="round" stroke-linecap="round"/><g shape-rendering="crispEdges"><rect x="3" y="108" width="1759" height="1" fill="#222d36"/><rect x="3" y="228" width="1759" height="1" fill="#222d36"/><rect x="3" y="307" width="1759" height="1" fill="#222d36"/><rect x="3" y="450" width="1759" height="1" fill="#44555f"/><rect x="3" y="557" width="1759" height="1" fill="#44555f"/><rect x="3" y="588" width="1759" height="1" fill="#44555f"/><rect x="3" y="473" width="1792" height="1" fill="#7d8b92"/></g><rect x="1762" y="101" width="36" height="15" fill="#222d36" shape-rendering="crispEdges"/><text x="1779.4" y="111.1" font-size="10" fill="#ffffff" text-anchor="middle" textLength="24.4" lengthAdjust="spacingAndGlyphs">58.30</text><rect x="1762" y="221" width="36" height="15" fill="#222d36" shape-rendering="crispEdges"/><text x="1779.4" y="231.1" font-size="10" fill="#ffffff" text-anchor="middle" textLength="24.4" lengthAdjust="spacingAndGlyphs">56.86</text><rect x="1762" y="300" width="36" height="15" fill="#222d36" shape-rendering="crispEdges"/><text x="1779.4" y="310.1" font-size="10" fill="#ffffff" text-anchor="middle" textLength="24.4" lengthAdjust="spacingAndGlyphs">55.90</text><rect x="1762" y="443" width="36" height="15" fill="#44555f" shape-rendering="crispEdges"/><text x="1779.4" y="453.1" font-size="10" fill="#ffffff" text-anchor="middle" textLength="24.4" lengthAdjust="spacingAndGlyphs">54.16</text><rect x="1762" y="550" width="36" height="15" fill="#44555f" shape-rendering="crispEdges"/><text x="1779.4" y="560.1" font-size="10" fill="#ffffff" text-anchor="middle" textLength="24.4" lengthAdjust="spacingAndGlyphs">52.87</text><rect x="1762" y="581" width="36" height="12" fill="#44555f" shape-rendering="crispEdges"/><text x="1779.4" y="591.1" font-size="10" fill="#ffffff" text-anchor="middle" textLength="24.4" lengthAdjust="spacingAndGlyphs">52.50</text><polygon points="1794.4,473.5 1803,465 1855,465 1855,482 1803,482" fill="#7f8c93"/><text x="1806.6" y="478" font-size="12" font-weight="bold" fill="#ffffff" textLength="29" lengthAdjust="spacingAndGlyphs">53.88</text><text x="1806.6" y="58.1" font-size="12.4" fill="#3a444a" textLength="29.3" lengthAdjust="spacingAndGlyphs">58.94</text><text x="1806.6" y="94.1" font-size="12.4" fill="#3a444a" textLength="29.3" lengthAdjust="spacingAndGlyphs">58.51</text><text x="1806.6" y="130.0" font-size="12.4" fill="#3a444a" textLength="29.3" lengthAdjust="spacingAndGlyphs">58.07</text><text x="1806.6" y="165.9" font-size="12.4" fill="#3a444a" textLength="29.3" lengthAdjust="spacingAndGlyphs">57.64</text><text x="1806.6" y="201.8" font-size="12.4" fill="#3a444a" textLength="29.3" lengthAdjust="spacingAndGlyphs">57.20</text><text x="1806.6" y="237.8" font-size="12.4" fill="#3a444a" textLength="29.3" lengthAdjust="spacingAndGlyphs">56.77</text><text x="1806.6" y="273.7" font-size="12.4" fill="#3a444a" textLength="29.3" lengthAdjust="spacingAndGlyphs">56.34</text><text x="1806.6" y="309.6" font-size="12.4" fill="#3a444a" textLength="29.3" lengthAdjust="spacingAndGlyphs">55.90</text><text x="1806.6" y="345.5" font-size="12.4" fill="#3a444a" textLength="29.3" lengthAdjust="spacingAndGlyphs">55.47</text><text x="1806.6" y="381.4" font-size="12.4" fill="#3a444a" textLength="29.3" lengthAdjust="spacingAndGlyphs">55.03</text><text x="1806.6" y="417.4" font-size="12.4" fill="#3a444a" textLength="29.3" lengthAdjust="spacingAndGlyphs">54.60</text><text x="1806.6" y="453.3" font-size="12.4" fill="#3a444a" textLength="29.3" lengthAdjust="spacingAndGlyphs">54.16</text><text x="1806.6" y="525.1" font-size="12.4" fill="#3a444a" textLength="29.3" lengthAdjust="spacingAndGlyphs">53.30</text><text x="1806.6" y="561.0" font-size="12.4" fill="#3a444a" textLength="29.3" lengthAdjust="spacingAndGlyphs">52.86</text><text x="1806.6" y="592.4" font-size="12.4" fill="#3a444a" textLength="29.3" lengthAdjust="spacingAndGlyphs">52.43</text><clipPath id="c5373"><rect x="1800" y="482" width="66" height="20"/></clipPath><text x="1806.6" y="489.2" font-size="12.4" fill="#3a444a" textLength="29.3" lengthAdjust="spacingAndGlyphs" clip-path="url(#c5373)">53.73</text><text x="1675.2" y="105.2" font-size="25.4" fill="#008051" textLength="59.8" lengthAdjust="spacingAndGlyphs">58,30</text><text x="1679.2" y="225" font-size="25.4" fill="#008051" textLength="59.6" lengthAdjust="spacingAndGlyphs">56,86</text><text x="1679.2" y="304.2" font-size="25.4" fill="#008051" textLength="59.6" lengthAdjust="spacingAndGlyphs">55,90</text><text x="1677.4" y="474.2" font-size="25.4" fill="#d00000" textLength="59.2" lengthAdjust="spacingAndGlyphs">54,16</text><text x="1677.4" y="554.2" font-size="25.4" fill="#d00000" textLength="59.2" lengthAdjust="spacingAndGlyphs">52,87</text><text x="908.6" y="75.8" font-size="33.1" fill="#1f2a33" stroke="#1f2a33" stroke-width="0.2" textLength="54.6" lengthAdjust="spacingAndGlyphs">WTI</text><rect x="9" y="0" width="150" height="31" fill="#ffffff"/><text x="14" y="23" font-size="11" font-weight="bold" fill="#3d4d57" textLength="39" lengthAdjust="spacingAndGlyphs">OIL.WTI</text><text x="65.6" y="22.1" font-size="8.2" font-weight="bold" fill="#8ea3ad" textLength="17.4" lengthAdjust="spacingAndGlyphs">CMD</text><polygon points="91.6,18 99,18 95.3,21.9" fill="#bcbcbc"/><text x="115.8" y="23" font-size="11" fill="#555f66" textLength="20.6" lengthAdjust="spacingAndGlyphs">M30</text><polygon points="142.4,18.9 150,18.9 146.2,23" fill="#bcbcbc"/><g shape-rendering="crispEdges"><rect x="6" y="562" width="10" height="6" fill="#aaaaaa"/><rect x="13" y="563" width="2" height="1" fill="#ffffff" opacity="0.8"/><rect x="11" y="566" width="4" height="1" fill="#ffffff" opacity="0.8"/><rect x="6" y="569" width="10" height="2" fill="#aaaaaa"/></g><path d="M20.5,563.5 L27,570 M27,563.5 L20.5,570" stroke="#aaaaaa" stroke-width="2.6"/><text x="31.6" y="570.9" font-size="10.4" fill="#555555" textLength="53.1" lengthAdjust="spacingAndGlyphs">EMA&#160;&#160;[21,&#160;0]</text><g shape-rendering="crispEdges"><rect x="6" y="576" width="10" height="6" fill="#aaaaaa"/><rect x="13" y="577" width="2" height="1" fill="#ffffff" opacity="0.8"/><rect x="11" y="580" width="4" height="1" fill="#ffffff" opacity="0.8"/><rect x="6" y="583" width="10" height="2" fill="#aaaaaa"/></g><path d="M20.5,577.5 L27,584 M27,577.5 L20.5,584" stroke="#aaaaaa" stroke-width="2.6"/><text x="31.6" y="584.9" font-size="10.4" fill="#555555" textLength="47.5" lengthAdjust="spacingAndGlyphs">EMA&#160;&#160;[7,&#160;0]</text><g shape-rendering="crispEdges"><rect x="2" y="593" width="1796" height="67" fill="#cc0000" fill-opacity="0.5"/><rect x="2" y="593" width="1796" height="1" fill="#cc0000" fill-opacity="0.15"/><rect x="2" y="660" width="1766" height="1" fill="#cc0000"/><rect x="2" y="747" width="1766" height="65" fill="#008051" fill-opacity="0.5"/><rect x="2" y="747" width="1766" height="1" fill="#008051"/><rect x="1768" y="747" width="30" height="65" fill="#008051" fill-opacity="0.5"/><rect x="934" y="593" width="10" height="2" fill="#c24a4a"/><rect x="1768" y="653" width="30" height="15" fill="#cc0000"/><rect x="1768" y="740" width="30" height="15" fill="#008051"/><rect x="1798" y="593" width="68" height="1" fill="#e3e6e9"/><rect x="1799" y="658" width="5" height="1" fill="#e3e6e9"/><rect x="1799" y="746" width="5" height="1" fill="#e3e6e9"/></g><text x="1782.8" y="662.4" font-size="9.9" fill="#ffffff" text-anchor="middle" textLength="19.2" lengthAdjust="spacingAndGlyphs">70.0</text><text x="1782.8" y="749.8" font-size="9.9" fill="#ffffff" text-anchor="middle" textLength="19.2" lengthAdjust="spacingAndGlyphs">30.0</text><text x="1806.6" y="603.9" font-size="9.2" fill="#4a5358" textLength="24.5" lengthAdjust="spacingAndGlyphs">100.0</text><text x="1806.6" y="662.7" font-size="9.2" fill="#4a5358" textLength="18.9" lengthAdjust="spacingAndGlyphs">70.0</text><text x="1806.6" y="750.1" font-size="9.2" fill="#4a5358" textLength="19.5" lengthAdjust="spacingAndGlyphs">30.0</text><text x="1806.6" y="810.9" font-size="9.2" fill="#4a5358" textLength="13.7" lengthAdjust="spacingAndGlyphs">0.0</text><polyline points="7.5,679.80 16.5,683.00 25.5,679.00 34.5,682.70 43.5,679.00 52.5,687.60 61.5,662.20 71.5,663.90 80.5,668.60 89.5,690.90 98.5,676.80 107.5,681.50 116.5,664.80 126.5,684.80 135.5,688.70 144.5,685.80 153.5,679.70 162.5,672.50 171.5,662.90 181.5,687.70 190.5,680.80 199.5,673.90 208.5,685.10 217.5,715.90 226.5,721.70 235.5,738.60 245.5,710.90 254.5,717.70 263.5,714.80 272.5,719.80 281.5,707.80 290.5,709.90 300.5,707.80 309.5,693.70 318.5,693.70 327.5,691.60 336.5,696.60 345.5,696.60 355.5,699.00 364.5,697.60 373.5,697.60 382.5,697.60 391.5,703.80 400.5,696.60 409.5,694.70 419.5,695.90 428.5,689.90 437.5,700.90 446.5,695.90 455.5,713.80 464.5,715.90 474.5,719.80 483.5,722.70 492.5,729.60 501.5,737.70 510.5,738.90 519.5,727.70 529.5,728.60 538.5,757.50 547.5,745.80 556.5,760.70 565.5,726.70 574.5,712.60 584.5,711.60 593.5,711.60 602.5,702.80 611.5,700.50 620.5,696.60 629.5,692.70 638.5,678.70 648.5,675.80 657.5,679.80 666.5,680.80 675.5,679.70 684.5,679.70 693.5,688.70 703.5,685.80 712.5,689.70 721.5,696.80 730.5,701.80 739.5,701.10 748.5,699.80 758.5,699.80 767.5,694.80 776.5,707.70 785.5,699.80 794.5,712.70 803.5,707.00 812.5,707.70 822.5,703.80 831.5,724.90 840.5,727.10 849.5,728.00 858.5,703.80 867.5,697.00 877.5,680.80 886.5,686.70 895.5,701.10 904.5,710.90 913.5,738.70 922.5,740.90 932.5,747.70 941.5,764.70 950.5,777.60 959.5,748.00 968.5,753.60 977.5,748.60 987.5,750.70 996.5,753.60 1005.5,767.90 1014.5,759.70 1023.5,753.60 1032.5,754.80 1041.5,752.70 1051.5,753.60 1060.5,755.70 1069.5,747.70 1078.5,720.80 1087.5,718.60 1096.5,720.80 1106.5,718.60 1115.5,718.60 1124.5,713.60 1133.5,715.80 1142.5,705.90 1151.5,704.70 1161.5,713.60 1170.5,713.60 1179.5,710.00 1188.5,706.50 1197.5,703.40 1206.5,698.50 1215.5,695.90 1225.5,700.60 1234.5,694.90 1243.5,699.90 1252.5,709.50 1261.5,703.80 1270.5,706.90 1280.5,698.00 1289.5,683.70 1298.5,684.40 1307.5,693.70 1316.5,705.60 1325.5,693.70 1335.5,702.80 1344.5,720.00 1353.5,688.70 1362.5,661.90 1371.5,676.50 1380.5,679.80 1390.5,684.70 1399.5,688.00 1408.5,708.80 1417.5,713.80 1426.5,709.90 1435.5,710.90 1444.5,708.80 1454.5,702.80 1463.5,702.80 1472.5,712.60 1481.5,710.60 1490.5,711.60 1499.5,715.90 1509.5,709.80 1518.5,711.90 1527.5,708.50 1536.5,707.60 1545.5,708.80 1554.5,699.90 1564.5,704.00 1573.5,700.60 1582.5,707.10 1591.5,715.70 1600.5,740.00 1609.5,737.00" fill="none" stroke="#2c3a42" stroke-width="1.1" stroke-linejoin="round"/><g shape-rendering="crispEdges"><rect x="6" y="799" width="10" height="6" fill="#58a186"/><rect x="13" y="800" width="2" height="1" fill="#ffffff" opacity="0.8"/><rect x="11" y="803" width="4" height="1" fill="#ffffff" opacity="0.8"/><rect x="6" y="806" width="10" height="2" fill="#58a186"/></g><path d="M20.5,800.5 L27,807 M27,800.5 L20.5,807" stroke="#58a186" stroke-width="2.6"/><text x="31.6" y="807.9" font-size="10.4" fill="#2f6d55" textLength="34.1" lengthAdjust="spacingAndGlyphs">RSI&#160;&#160;[14]</text><text x="6.8" y="824" font-size="12" fill="#333d44" textLength="60.6" lengthAdjust="spacingAndGlyphs">16.11.2018</text><text x="75.4" y="824" font-size="12" fill="#333d44" textLength="30.2" lengthAdjust="spacingAndGlyphs">05:30</text><text x="144.3" y="824" font-size="12" fill="#333d44" textLength="30.2" lengthAdjust="spacingAndGlyphs">13:00</text><text x="281.3" y="824" font-size="12" fill="#333d44" textLength="30.2" lengthAdjust="spacingAndGlyphs">20:30</text><text x="419.3" y="824" font-size="12" fill="#333d44" textLength="30.2" lengthAdjust="spacingAndGlyphs">08:00</text><text x="556.3" y="824" font-size="12" fill="#333d44" textLength="30.2" lengthAdjust="spacingAndGlyphs">15:30</text><text x="693.3" y="824" font-size="12" fill="#333d44" textLength="30.2" lengthAdjust="spacingAndGlyphs">02:00</text><text x="831.3" y="824" font-size="12" fill="#333d44" textLength="30.2" lengthAdjust="spacingAndGlyphs">09:30</text><text x="968.3" y="824" font-size="12" fill="#333d44" textLength="30.2" lengthAdjust="spacingAndGlyphs">17:00</text><text x="1106.3" y="824" font-size="12" fill="#333d44" textLength="30.2" lengthAdjust="spacingAndGlyphs">03:30</text><text x="1243.3" y="824" font-size="12" fill="#333d44" textLength="30.2" lengthAdjust="spacingAndGlyphs">11:00</text><text x="1380.3" y="824" font-size="12" fill="#333d44" textLength="30.2" lengthAdjust="spacingAndGlyphs">18:30</text><text x="1518.3" y="824" font-size="12" fill="#333d44" textLength="30.2" lengthAdjust="spacingAndGlyphs">05:00</text><text x="1655.3" y="824" font-size="12" fill="#333d44" textLength="30.2" lengthAdjust="spacingAndGlyphs">12:30</text></svg>
</body></html>
